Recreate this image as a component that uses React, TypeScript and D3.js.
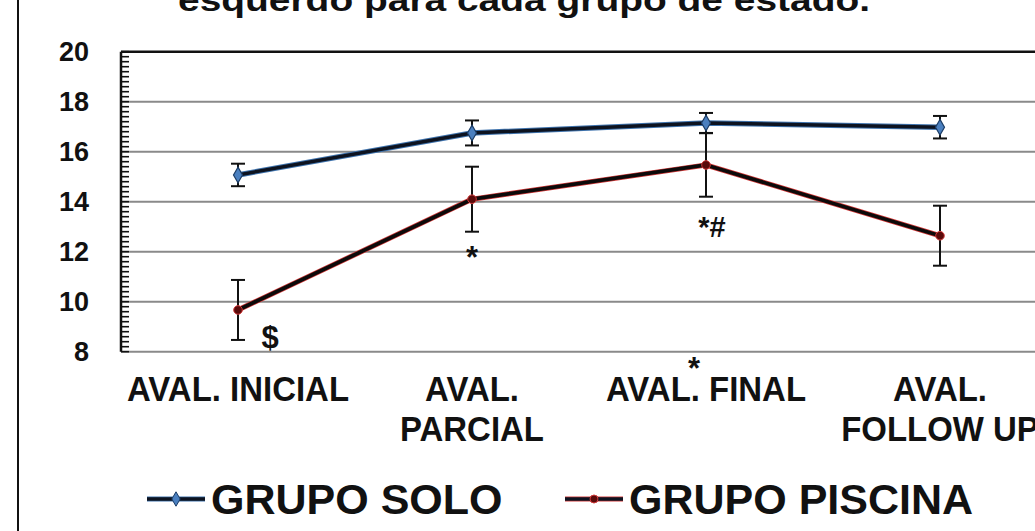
import React from "react";
import * as d3 from "d3";

// Evaluation moments on the x axis (line breaks shown with "\n")
const categories = ["AVAL. INICIAL", "AVAL.\nPARCIAL", "AVAL. FINAL", "AVAL.\nFOLLOW UP"];

// Mean scores and error-bar half widths per group
const soloValues = [15.07, 16.75, 17.15, 16.98];
const soloErrors = [0.45, 0.5, 0.4, 0.45];
const piscinaValues = [9.67, 14.1, 15.47, 12.64];
const piscinaErrors = [1.2, 1.3, 1.27, 1.2];

const yTicks = [8, 10, 12, 14, 16, 18, 20];
const legendLabels = ["GRUPO SOLO", "GRUPO PISCINA"];

// Significance markers: category index, horizontal offset, value anchor and text
const markers = [
  { cat: 0, dx: 32, y: 8.15, text: "$", size: 31 },
  { cat: 1, dx: 0, y: 11.35, text: "*", size: 31 },
  { cat: 2, dx: 6, y: 12.6, text: "*#", size: 29 },
  { cat: 2, dx: -12, y: 6.9, text: "*", size: 31 },
];

const W = 1035;
const H = 531;
const FONT = "'Liberation Sans', Arial, sans-serif";

export default function App() {
  const left = 121;
  const top = 51.7;
  const bottom = 351.7;
  const right = 1057;

  const y = d3.scaleLinear().domain([8, 20]).range([bottom, top]);
  const x = d3.scaleBand<string>().domain(categories).range([left, right]);
  const cx = (i: number) => (x(categories[i]) as number) + x.bandwidth() / 2;

  const line = d3
    .line<number>()
    .x((_, i) => cx(i))
    .y((d) => y(d));
  const soloLine = line(soloValues) as string;
  const piscinaLine = line(piscinaValues) as string;

  const minorTicks = d3.range(8, 20.001, 0.2);

  const errorBars = (vals: number[], errs: number[], key: string) =>
    vals.map((v, i) => {
      const x0 = cx(i);
      const y1 = y(v + errs[i]);
      const y2 = y(v - errs[i]);
      return (
        <g key={key + i} stroke="#111" strokeWidth={2}>
          <line x1={x0} x2={x0} y1={y1} y2={y2} />
          <line x1={x0 - 7} x2={x0 + 7} y1={y1} y2={y1} />
          <line x1={x0 - 7} x2={x0 + 7} y1={y2} y2={y2} />
        </g>
      );
    });

  return (
    <svg
      width={W}
      height={H}
      style={{ position: "fixed", left: 0, top: 0, background: "#fff" }}
      fontFamily={FONT}
    >
      <rect width={W} height={H} fill="#fff" />
      {/* frame edge on the left */}
      <line x1={18} x2={18} y1={0} y2={H} stroke="#111" strokeWidth={2} />

      {/* title, partly above the visible area */}
      <text
        x={524}
        y={11}
        textAnchor="middle"
        fontSize={32}
        fontWeight="bold"
        fill="#111"
        textLength={692}
        lengthAdjust="spacingAndGlyphs"
      >
        esquerdo para cada grupo de estado.
      </text>

      {/* horizontal gridlines */}
      {yTicks.slice(0, -1).map((t) => (
        <line key={"g" + t} x1={left} x2={W} y1={y(t)} y2={y(t)} stroke="#8a8a8a" strokeWidth={2} />
      ))}
      {/* top border of the plot area */}
      <line x1={left} x2={W} y1={y(20)} y2={y(20)} stroke="#111" strokeWidth={2.5} />

      {/* left axis with minor ticks */}
      <line x1={left} x2={left} y1={y(20)} y2={y(8)} stroke="#111" strokeWidth={2.5} />
      {minorTicks.map((t, i) => (
        <line key={"m" + i} x1={left} x2={left + 8} y1={y(t)} y2={y(t)} stroke="#111" strokeWidth={1.6} />
      ))}
      {yTicks.map((t) => (
        <text
          key={"yl" + t}
          x={89}
          y={y(t) + 9.5}
          textAnchor="end"
          fontSize={27}
          fontWeight="bold"
          fill="#111"
        >
          {t}
        </text>
      ))}

      {/* category labels */}
      {categories.map((c, i) =>
        c.split("\n").map((ln, j) => (
          <text
            key={"xl" + i + j}
            transform={`translate(${cx(i)},${401 + j * 40}) scale(0.915,1)`}
            textAnchor="middle"
            fontSize={36}
            fontWeight="bold"
            fill="#111"
          >
            {ln}
          </text>
        ))
      )}

      {/* series lines */}
      <path d={soloLine} fill="none" stroke="#3f73ad" strokeWidth={5.5} strokeLinejoin="round" />
      <path d={soloLine} fill="none" stroke="#0d1320" strokeWidth={3.5} strokeLinejoin="round" />
      <path d={piscinaLine} fill="none" stroke="#d23a3a" strokeWidth={5.2} strokeLinejoin="round" />
      <path d={piscinaLine} fill="none" stroke="#0d0a0a" strokeWidth={3.8} strokeLinejoin="round" />

      {errorBars(soloValues, soloErrors, "se")}
      {errorBars(piscinaValues, piscinaErrors, "pe")}

      {/* markers */}
      {soloValues.map((v, i) => (
        <path
          key={"sm" + i}
          d={d3.symbol(d3.symbolDiamond, 70)() as string}
          transform={`translate(${cx(i)},${y(v)})`}
          fill="#4a7fbf"
          stroke="#1c3d66"
          strokeWidth={1.2}
        />
      ))}
      {piscinaValues.map((v, i) => (
        <circle key={"pm" + i} cx={cx(i)} cy={y(v)} r={4.3} fill="#5a0a0a" stroke="#d23a3a" strokeWidth={1} />
      ))}

      {/* significance markers */}
      {markers.map((m, i) => (
        <text
          key={"sig" + i}
          x={cx(m.cat) + m.dx}
          y={y(m.y)}
          textAnchor="middle"
          fontSize={m.size}
          fontWeight="bold"
          fill="#111"
        >
          {m.text}
        </text>
      ))}

      {/* legend */}
      {legendLabels.map((lab, i) => {
        const lx = i === 0 ? 147 : 565;
        const ly = 499;
        return (
          <g key={"lg" + i}>
            <line
              x1={lx}
              x2={lx + 58}
              y1={ly}
              y2={ly}
              stroke={i === 0 ? "#3f73ad" : "#d23a3a"}
              strokeWidth={5}
            />
            <line x1={lx} x2={lx + 58} y1={ly} y2={ly} stroke="#0d1320" strokeWidth={3.5} />
            {i === 0 ? (
              <path
                d={d3.symbol(d3.symbolDiamond, 60)() as string}
                transform={`translate(${lx + 29},${ly})`}
                fill="#4a7fbf"
                stroke="#1c3d66"
                strokeWidth={1}
              />
            ) : (
              <circle cx={lx + 29} cy={ly} r={4} fill="#5a0a0a" stroke="#d23a3a" strokeWidth={1} />
            )}
            <text x={lx + 64} y={514} fontSize={43} fontWeight="bold" fill="#111">
              {lab}
            </text>
          </g>
        );
      })}
    </svg>
  );
}
